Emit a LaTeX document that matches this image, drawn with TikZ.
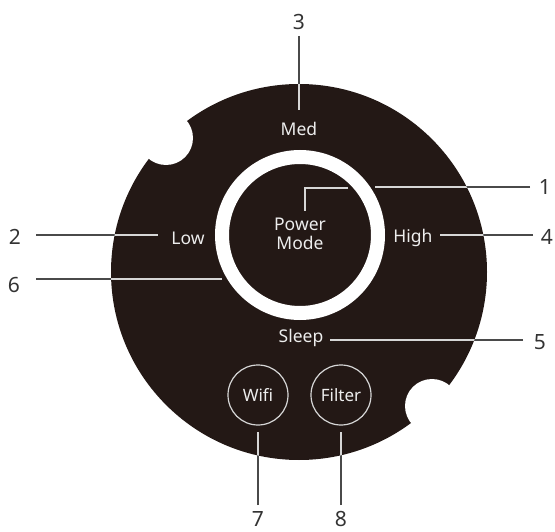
\documentclass[tikz,border=0pt]{standalone}
\usepackage{fontspec}
\setmainfont{Noto Sans}
\definecolor{disc}{HTML}{231815}
\definecolor{outline}{HTML}{4A4A4A}
\definecolor{inline}{HTML}{D6D6D6}
\definecolor{numcol}{HTML}{333333}
\definecolor{txt}{HTML}{EDEDED}
\newcommand\leaderline[2]{%
  \draw[leadout] (#1) -- (#2);
  \begin{scope}\clip (299,272) circle (188);
    \draw[leadin] (#1) -- (#2);
  \end{scope}}
\begin{document}
\begin{tikzpicture}[x=1pt,y=-1pt,
  lbl/.style={text=txt,font=\fontsize{17.5}{20}\selectfont,inner sep=0pt},
  num/.style={text=numcol,font=\fontsize{21}{24}\selectfont,inner sep=0pt},
  btn/.style={circle,draw=inline,line width=1.2pt,minimum size=60pt,inner sep=0pt,text=txt,font=\fontsize{17}{20}\selectfont},
  leadout/.style={draw=outline,line width=1.4pt},
  leadin/.style={draw=inline,line width=1.4pt}]
\useasboundingbox (0,0) rectangle (555,532);
% disc with notches
\fill[disc] (299,272) circle (188);
\fill[white] (166,138) circle (27);
\fill[white] (432,406) circle (27);
% ring
\draw[white,line width=14pt] (300,235) circle (78);
% labels
\node[lbl] (med) at (299,129) {Med};
\node[lbl] (low) at (188,238) {Low};
\node[lbl] (high) at (413,238) {High};
\node[lbl] (sleep) at (301,338) {Sleep};
\node[lbl,align=center,font=\fontsize{17.5}{19.5}\selectfont] (power) at (300,234) {Power\\Mode};
\node[btn] (wifi) at (258,395) {Wifi};
\node[btn] (filter) at (341,395) {Filter};
% numbers
\node[num] (n1) at (545,187) {1};
\node[num] (n2) at (15,237) {2};
\node[num] (n3) at (299,22) {3};
\node[num] (n4) at (547,237) {4};
\node[num] (n5) at (540,342) {5};
\node[num] (n6) at (14,285) {6};
\node[num] (n7) at (258,519) {7};
\node[num] (n8) at (341,519) {8};
% leader end points
\coordinate (a3) at (299,36);  \coordinate (b3) at (299,110);
\coordinate (a2) at (36,235);  \coordinate (b2) at (158,235);
\coordinate (a6) at (36,279);  \coordinate (b6) at (222,279);
\coordinate (a4) at (533,235); \coordinate (b4) at (440,235);
\coordinate (a1) at (530,187); \coordinate (b1) at (375,187);
\coordinate (a5) at (523,340); \coordinate (b5) at (330,340);
\coordinate (a7) at (258,505); \coordinate (b7) at (258,432);
\coordinate (a8) at (341,505); \coordinate (b8) at (341,432);
\coordinate (p1) at (348,188); \coordinate (p2) at (305,188); \coordinate (p3) at (305,211);
\leaderline{a3}{b3}
\leaderline{a2}{b2}
\leaderline{a6}{b6}
\leaderline{a4}{b4}
\leaderline{a1}{b1}
\leaderline{a5}{b5}
\leaderline{a7}{b7}
\leaderline{a8}{b8}
\draw[leadin] (p1) -- (p2) -- (p3);
\end{tikzpicture}
\end{document}
